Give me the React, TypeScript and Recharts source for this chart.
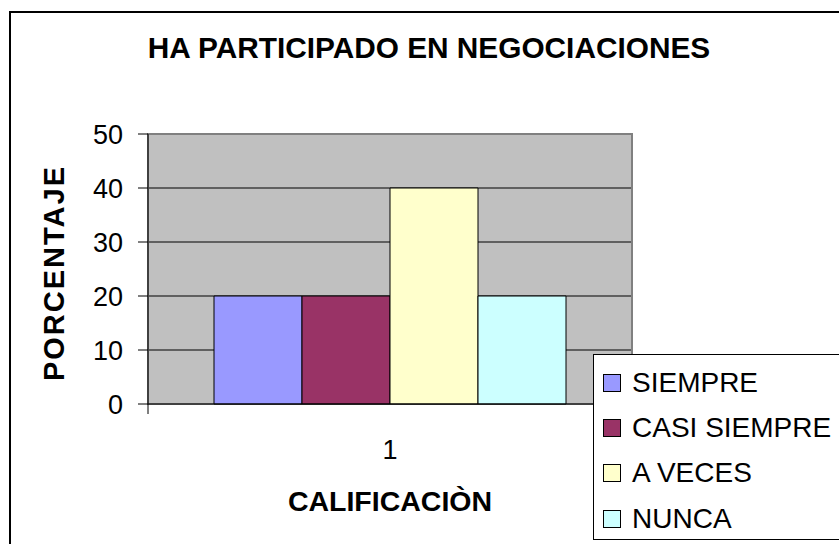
import { BarChart, Bar, XAxis, YAxis, CartesianGrid, Legend, ReferenceArea } from "recharts";

const categories = ["1"];
const siempre = [20];
const casiSiempre = [20];
const aVeces = [40];
const nunca = [20];
const yTicks = [0, 10, 20, 30, 40, 50];

const SERIES = [
  { key: "siempre", name: "SIEMPRE", color: "#9999ff" },
  { key: "casiSiempre", name: "CASI SIEMPRE", color: "#993366" },
  { key: "aVeces", name: "A VECES", color: "#ffffcc" },
  { key: "nunca", name: "NUNCA", color: "#ccffff" },
];

const data = categories.map((c, i) => ({
  name: c,
  siempre: siempre[i],
  casiSiempre: casiSiempre[i],
  aVeces: aVeces[i],
  nunca: nunca[i],
}));

const FONT = '"Liberation Sans", Arial, sans-serif';
const X_TICK_SIZE = 10;
const X_TICK_MARGIN = 26;

// category label in the middle, Excel-style tick marks at the band edges
function CatTick(props: any) {
  const { x, y, payload } = props;
  const off = payload?.offset ?? 0;
  const axisY = y - X_TICK_SIZE - X_TICK_MARGIN;
  return (
    <g>
      <line x1={x - off} x2={x - off} y1={axisY} y2={axisY + X_TICK_SIZE} stroke="#000" />
      <line x1={x + off} x2={x + off} y1={axisY} y2={axisY + X_TICK_SIZE} stroke="#000" />
      <text x={x} y={y} dy="0.71em" textAnchor="middle" fontSize={27} fontFamily={FONT} fill="#000">
        {payload.value}
      </text>
    </g>
  );
}

function LegendBox() {
  return (
    <div
      style={{
        width: 260,
        height: 186,
        border: "1px solid #000",
        background: "#fff",
        fontFamily: FONT,
        fontSize: 28,
        color: "#000",
        boxSizing: "border-box",
        paddingTop: 5,
      }}
    >
      {SERIES.map((s) => (
        <div key={s.key} style={{ display: "flex", alignItems: "center", height: 45.3 }}>
          <span
            style={{
              width: 16,
              height: 16,
              marginLeft: 9,
              marginRight: 11,
              background: s.color,
              border: "1px solid #000",
              display: "inline-block",
            }}
          />
          <span style={{ whiteSpace: "nowrap" }}>{s.name}</span>
        </div>
      ))}
    </div>
  );
}

export default function App() {
  return (
    <div
      style={{
        position: "absolute",
        left: 0,
        top: 0,
        width: 839,
        height: 544,
        overflow: "hidden",
        background: "#fff",
        fontFamily: FONT,
      }}
    >
      <BarChart
        width={839}
        height={544}
        data={data}
        margin={{ top: 134, right: 207, left: 0, bottom: 0 }}
        barCategoryGap={66}
        barGap={0}
      >
        <CartesianGrid vertical={false} stroke="#000" fill="#c0c0c0" fillOpacity={1} />
        <ReferenceArea y1={0} y2={50} fill="none" stroke="#808080" strokeWidth={2} ifOverflow="visible" />
        <XAxis
          dataKey="name"
          tickLine={false}
          tickSize={X_TICK_SIZE}
          tickMargin={X_TICK_MARGIN}
          axisLine={{ stroke: "#000" }}
          tick={<CatTick />}
          height={140}
        />
        <YAxis
          domain={[0, 50]}
          ticks={yTicks}
          width={148}
          tickSize={10}
          tickMargin={15}
          interval={0}
          axisLine={{ stroke: "#000" }}
          tickLine={{ stroke: "#000" }}
          tick={{ fontSize: 27, fill: "#000", fontFamily: FONT }}
        />
        {SERIES.map((s) => (
          <Bar
            key={s.key}
            dataKey={s.key}
            name={s.name}
            fill={s.color}
            stroke="#000"
            strokeWidth={1}
            isAnimationActive={false}
          />
        ))}
        <Legend
          layout="vertical"
          align="center"
          verticalAlign="middle"
          content={<LegendBox />}
          wrapperStyle={{ position: "absolute", left: 593, top: 354, width: 260, height: 186 }}
        />
      </BarChart>
      <div
        style={{
          position: "absolute",
          left: 0,
          top: 28,
          width: 858,
          textAlign: "center",
          fontWeight: "bold",
          fontSize: 29.8,
          color: "#000",
          lineHeight: "40px",
        }}
      >
        HA PARTICIPADO EN NEGOCIACIONES
      </div>
      <div
        style={{
          position: "absolute",
          left: 390 - 150,
          width: 300,
          top: 481,
          textAlign: "center",
          fontWeight: "bold",
          fontSize: 28.5,
          color: "#000",
          lineHeight: "40px",
        }}
      >
        CALIFICACIÒN
      </div>
      <div
        style={{
          position: "absolute",
          left: 54 - 150,
          top: 273 - 20,
          width: 300,
          height: 40,
          lineHeight: "40px",
          textAlign: "center",
          fontWeight: "bold",
          fontSize: 29,
          letterSpacing: 2,
          color: "#000",
          transform: "rotate(-90deg)",
        }}
      >
        PORCENTAJE
      </div>
      <div
        style={{
          position: "absolute",
          left: 9,
          top: 11,
          width: 860,
          height: 560,
          border: "2px solid #000",
          pointerEvents: "none",
        }}
      />
    </div>
  );
}
